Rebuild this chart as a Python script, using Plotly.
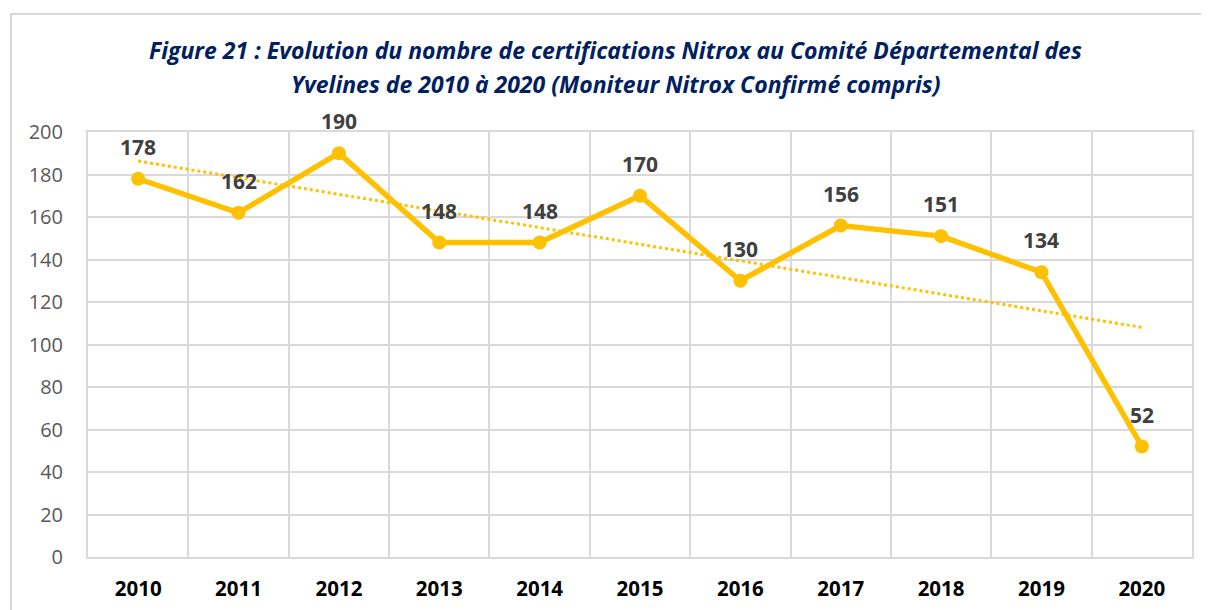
import numpy as np
import plotly.graph_objects as go

years = ["2010", "2011", "2012", "2013", "2014", "2015", "2016", "2017", "2018", "2019", "2020"]
values = [178, 162, 190, 148, 148, 170, 130, 156, 151, 134, 52]
y_ticks = [0, 20, 40, 60, 80, 100, 120, 140, 160, 180, 200]
title_lines = [
    "Figure 21 : Evolution du nombre de certifications Nitrox au Comité Départemental des",
    "Yvelines de 2010 à 2020 (Moniteur Nitrox Confirmé compris)",
]

xs = np.arange(len(years))
slope, intercept = np.polyfit(xs, values, 1)
trend = slope * xs + intercept

GOLD = "#FFC000"
GRID = "#D9D9D9"
FONT = "Open Sans"

# plot area (figure px, body margin of 8px accounted for)
L, T, H = 80, 124, 425

fig = go.Figure()
fig.add_trace(go.Scatter(
    x=xs, y=values, mode="lines+markers",
    line=dict(color=GOLD, width=5.5),
    marker=dict(color=GOLD, size=14),
    showlegend=False))
fig.add_trace(go.Scatter(
    x=xs, y=trend, mode="lines",
    line=dict(color=GOLD, width=3, dash="dot"),
    hoverinfo="skip", showlegend=False))

for x, v in zip(xs, values):
    fig.add_annotation(x=x, y=v, text=f"<b>{v}</b>", showarrow=False,
                       yshift=32, font=dict(family=FONT, size=21, color="#404040"))

for line, yfig in zip(title_lines, [42, 76]):
    fig.add_annotation(xref="paper", yref="paper", x=(607 - L) / 1104, y=(T + H - yfig) / H,
                       xanchor="center", yanchor="middle", showarrow=False,
                       text=f"<b><i>{line}</i></b>",
                       font=dict(family=FONT, size=23, color="#002060"))

fig.update_layout(
    width=1209, height=610,
    margin=dict(l=L, r=25, t=T, b=61, autoexpand=False),
    paper_bgcolor="white", plot_bgcolor="white",
    font=dict(family=FONT),
    shapes=[dict(type="rect", xref="paper", yref="paper",
                 x0=(3 - L) / 1104, x1=1.05, y0=-0.3, y1=(T + H - 6) / H,
                 line=dict(color=GRID, width=2), fillcolor="rgba(0,0,0,0)", layer="below")],
)

fig.update_xaxes(
    range=[-0.5, 10.5], tickvals=list(xs), ticktext=years, automargin=False,
    tickfont=dict(family=FONT, size=20.5, color="black", weight="bold"),
    showgrid=False, zeroline=False,
    showline=True, mirror=True, linecolor=GRID, linewidth=2,
    ticks="outside", ticklen=12, tickcolor="rgba(0,0,0,0)",
    minor=dict(tick0=-0.5, dtick=1, showgrid=True, gridcolor=GRID, gridwidth=2),
)
fig.update_yaxes(
    range=[0, 200], tickvals=y_ticks, automargin=False,
    tickfont=dict(family=FONT, size=20, color="#595959"),
    showgrid=True, gridcolor=GRID, gridwidth=2, zeroline=False,
    showline=True, mirror=True, linecolor=GRID, linewidth=2,
    ticks="outside", ticklen=19, tickcolor="rgba(0,0,0,0)",
)

fig.write_html("out.html")
